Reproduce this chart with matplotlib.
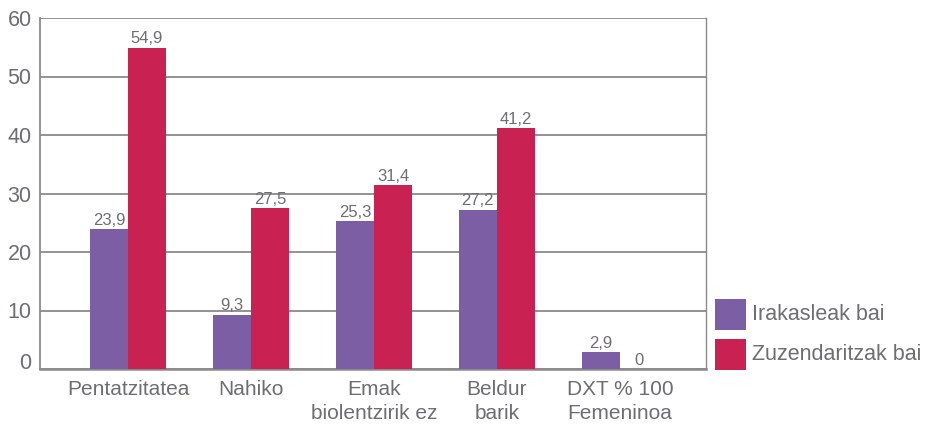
import matplotlib
matplotlib.use("Agg")
import matplotlib.pyplot as plt
import matplotlib.transforms as mtransforms
from matplotlib.patches import Rectangle
import numpy as np

categories = ["Pentatzitatea", "Nahiko", "Emak\nbiolentzirik ez", "Beldur\nbarik", "DXT % 100\nFemeninoa"]
irakasleak = [23.9, 9.3, 25.3, 27.2, 2.9]
zuzendaritzak = [54.9, 27.5, 31.4, 41.2, 0]
series_names = ["Irakasleak bai", "Zuzendaritzak bai"]
yticks = [0, 10, 20, 30, 40, 50, 60]

purple = "#7B5EA3"
red = "#C82152"
textc = "#6D6E71"
gridc = "#8A8A8A"

plt.rcParams['font.family'] = ['Liberation Sans', 'DejaVu Sans']

W, H = 925, 425
fig = plt.figure(figsize=(W/100, H/100), dpi=100)
ax = fig.add_axes([40/W, 1-369/H, (706-40)/W, (369-18)/H])

x = np.arange(len(categories))
w = 0.31
b1 = ax.bar(x - w/2, irakasleak, w, color=purple, label=series_names[0], zorder=3)
b2 = ax.bar(x + w/2, zuzendaritzak, w, color=red, label=series_names[1], zorder=3)

def fmt(v):
    if v == 0:
        return "0"
    return f"{v:.1f}".replace(".", ",")

for bars, vals in ((b1, irakasleak), (b2, zuzendaritzak)):
    for r, v in zip(bars, vals):
        ax.text(r.get_x() + r.get_width()/2, v + 0.25, fmt(v), ha="center", va="bottom",
                fontsize=12, color=textc, zorder=4)

ax.set_xlim(-0.715, 4.7)
ax.set_ylim(0, 60)
ax.set_yticks(yticks)
ax.set_yticklabels([str(t) for t in yticks], fontsize=15.5, color=textc)
ax.set_xticks(x)
ax.set_xticklabels(categories, fontsize=15, color=textc, linespacing=1.3)
ax.tick_params(axis="both", length=0)
ax.tick_params(axis="y", pad=6)
ax.tick_params(axis="x", pad=8)
# the "0" label sits slightly above its line in the reference
zero_lbl = ax.yaxis.get_major_ticks()[0].label1
zero_lbl.set_transform(zero_lbl.get_transform() +
                       mtransforms.ScaledTranslation(0, 8/100, fig.dpi_scale_trans))
ax.yaxis.grid(True, color=gridc, linewidth=1.3, zorder=0)
for s in ["left", "right", "bottom"]:
    ax.spines[s].set_color(gridc)
    ax.spines[s].set_linewidth(1.3)
ax.spines["top"].set_visible(False)
ax.spines["bottom"].set_linewidth(1.8)
ax.spines["right"].set_linewidth(1.0)

# legend drawn manually in figure pixel coordinates
leg_y = [299, 339]
for name, col, y0 in zip(series_names, [purple, red], leg_y):
    fig.add_artist(Rectangle((715/W, 1-(y0+31)/H), 31/W, 31/H, transform=fig.transFigure,
                             facecolor=col, edgecolor="none"))
    fig.text(752/W, 1-(y0+15.5)/H, name, fontsize=15.5, color=textc, va="center", ha="left")

fig.savefig("out.png", dpi=100)
